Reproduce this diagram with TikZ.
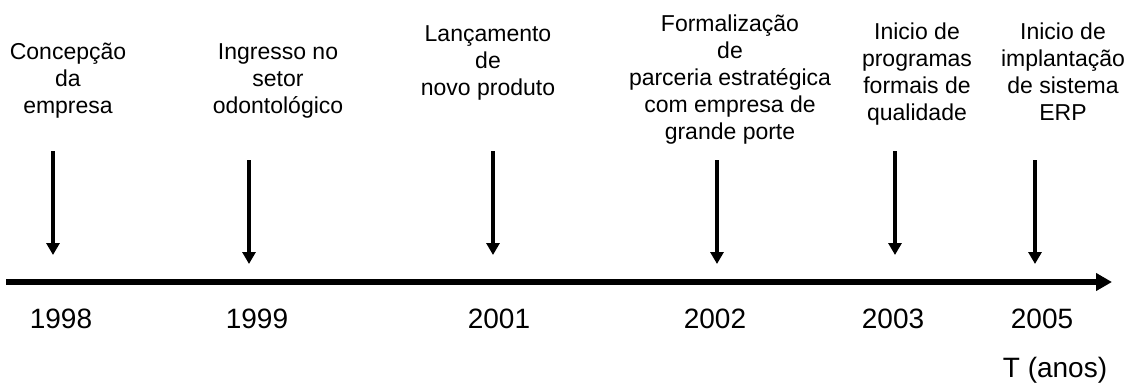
\documentclass[tikz,border=0pt]{standalone}
\usepackage{fontspec}
\setmainfont{Liberation Sans}
\usetikzlibrary{arrows.meta}
\tikzset{
  evlabel/.style={align=center, anchor=base, inner sep=0pt, font=\fontsize{23}{27}\selectfont},
  yearlabel/.style={anchor=base, inner sep=0pt, font=\fontsize{28}{32}\selectfont},
  evarrow/.style={line width=4pt, -{Triangle[length=12pt,width=13pt]}},
  axisarrow/.style={line width=6.5pt, -{Triangle[length=16pt,width=17pt]}}
}
\begin{document}
\begin{tikzpicture}[x=1pt,y=-1pt]
\useasboundingbox (0,0) rectangle (1135,388);
% labels (anchored at the baseline of their last line)
\node[evlabel] (l1) at (68,113) {Concepção\\da\\empresa};
\node[evlabel] (l2) at (278,113) {Ingresso no\\setor\\odontológico};
\node[evlabel] (l3) at (488,95) {Lançamento\\de\\novo produto};
\node[evlabel] (l4) at (730,139) {Formalização\\de\\parceria estratégica\\com empresa de\\grande porte};
\node[evlabel] (l5) at (917,120) {Inicio de\\programas\\formais de\\qualidade};
\node[evlabel] (l6) at (1063,120) {Inicio de\\implantação\\de sistema\\ERP};
% arrow coordinates
\coordinate (a1s) at (53,151);  \coordinate (a1e) at (53,255);
\coordinate (a2s) at (249,160); \coordinate (a2e) at (249,264);
\coordinate (a3s) at (493,151); \coordinate (a3e) at (493,255);
\coordinate (a4s) at (717,160); \coordinate (a4e) at (717,264);
\coordinate (a5s) at (895,151); \coordinate (a5e) at (895,255);
\coordinate (a6s) at (1035,160); \coordinate (a6e) at (1035,264);
\draw[evarrow] (a1s) -- (a1e);
\draw[evarrow] (a2s) -- (a2e);
\draw[evarrow] (a3s) -- (a3e);
\draw[evarrow] (a4s) -- (a4e);
\draw[evarrow] (a5s) -- (a5e);
\draw[evarrow] (a6s) -- (a6e);
% axis
\coordinate (ax0) at (6,282);
\coordinate (ax1) at (1112,282);
\draw[axisarrow] (ax0) -- (ax1);
% years
\node[yearlabel] (y1) at (61,328) {1998};
\node[yearlabel] (y2) at (257,328) {1999};
\node[yearlabel] (y3) at (499,328) {2001};
\node[yearlabel] (y4) at (715,328) {2002};
\node[yearlabel] (y5) at (893,328) {2003};
\node[yearlabel] (y6) at (1042,328) {2005};
\node[yearlabel] (t) at (1055,377) {T (anos)};
\end{tikzpicture}
\end{document}
